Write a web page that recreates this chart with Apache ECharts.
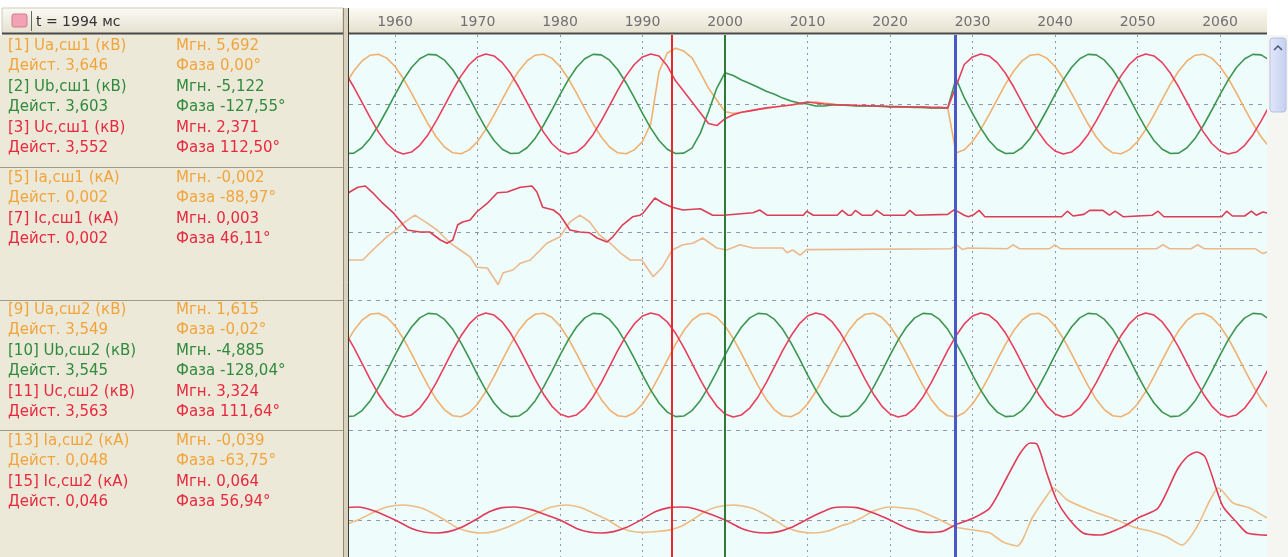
<!DOCTYPE html>
<html><head><meta charset="utf-8">
<script src="https://cdn.jsdelivr.net/npm/echarts@6/dist/echarts.min.js"></script>
<style>html,body{margin:0;padding:0;background:#fff;}#c{width:1288px;height:557px;}</style>
</head><body><div id="c"></div>
<script>
// ---- time samples (ms) for the voltage channels ----
const timeMs = [1954,1955,1956,1957,1958,1959,1960,1961,1962,1963,1964,1965,1966,1967,1968,1969,1970,1971,1972,1973,1974,
1975,1976,1977,1978,1979,1980,1981,1982,1983,1984,1985,1986,1987,1988,1989,1990,1991,1992,1993,1994,
1995,1996,1997,1998,1999,2000,2001,2002,2003,2004,2005,2006,2007,2008,2009,2010,2011,2012,2013,2014,
2015,2016,2017,2018,2019,2020,2021,2022,2023,2024,2025,2026,2027,2028,2029,2030,2031,2032,2033,2034,
2035,2036,2037,2038,2039,2040,2041,2042,2043,2044,2045,2046,2047,2048,2049,2050,2051,2052,2053,2054,
2055,2056,2057,2058,2059,2060,2061,2062,2063,2064,2065,2066];

// ---- panel 1: bus 1 voltages, kV ----
const ua1 = [2.02,
3.37,4.39,4.98,5.08,4.68,3.83,2.60,1.11,-0.48,-2.02,-3.37,-4.39,-4.98,-5.08,-4.68,-3.83,-2.60,-1.11,0.48,2.02,
3.37,4.39,4.98,5.08,4.68,3.83,2.60,1.11,-0.48,-2.02,-3.37,-4.39,-4.98,-5.08,-4.68,
-3.83,-2.00,3.30,5.20,5.69,5.40,4.70,3.20,1.60,0.40,-0.80,
-0.95,-0.85,-0.70,-0.55,-0.45,-0.30,-0.20,-0.10,0.00,0.15,
0.20,0.10,0.00,-0.10,-0.10,-0.15,-0.20,-0.20,-0.20,-0.25,
-0.30,-0.30,-0.30,-0.35,-0.40,-0.40,-0.40,-5.00,
-4.68,-3.83,-2.60,-1.11,0.48,2.02,
3.37,4.39,4.98,5.08,4.68,3.83,2.60,1.11,-0.48,-2.02,-3.37,-4.39,-4.98,-5.08,-4.68,-3.83,-2.60,-1.11,0.48,2.02,
3.37,4.39,4.98,5.08,4.68,3.83,2.60,1.11,-0.48,-2.02,-3.37,-4.39];
const ub1 = [-5.06,
-5.01,-4.47,-3.49,-2.17,-0.64,0.95,2.46,3.72,4.62,5.06,5.01,4.47,3.49,2.17,0.64,-0.95,-2.46,-3.72,-4.62,-5.06,
-5.01,-4.47,-3.49,-2.17,-0.64,0.95,2.46,3.72,4.62,5.06,5.01,4.47,3.49,2.17,0.64,-0.95,-2.46,-3.72,-4.62,-5.06,-5.01,
-4.50,-3.00,-0.80,1.60,3.20,2.90,2.45,2.10,1.70,1.30,
1.00,0.60,0.30,0.10,0.00,-0.20,-0.20,-0.10,-0.10,-0.15,
-0.20,-0.20,-0.20,-0.25,-0.30,-0.30,-0.30,-0.35,-0.35,-0.40,-0.40,-0.40,2.60,
0.64,-0.95,-2.46,-3.72,-4.62,-5.06,
-5.01,-4.47,-3.49,-2.17,-0.64,0.95,2.46,3.72,4.62,5.06,5.01,4.47,3.49,2.17,0.64,-0.95,-2.46,-3.72,-4.62,-5.06,
-5.01,-4.47,-3.49,-2.17,-0.64,0.95,2.46,3.72,4.62,5.06,5.01,4.47];
const uc1 = [3.13,
1.73,0.16,-1.42,-2.87,-4.03,-4.80,-5.10,-4.90,-4.22,-3.13,-1.73,-0.16,1.42,2.87,4.03,4.80,5.10,4.90,4.22,3.13,
1.73,0.16,-1.42,-2.87,-4.03,-4.80,-5.10,-4.90,-4.22,-3.13,-1.73,-0.16,1.42,2.87,4.03,4.80,5.10,4.90,
3.90,2.37,1.30,0.20,-0.90,-2.00,-2.20,-1.50,-1.10,-0.85,
-0.70,-0.55,-0.40,-0.30,-0.20,-0.10,0.05,0.20,0.10,0.00,
-0.05,-0.10,-0.10,-0.15,-0.15,-0.20,-0.20,-0.25,-0.25,-0.30,
-0.30,-0.30,-0.35,-0.35,-0.40,1.80,
4.03,4.80,5.10,4.90,4.22,3.13,
1.73,0.16,-1.42,-2.87,-4.03,-4.80,-5.10,-4.90,-4.22,-3.13,-1.73,-0.16,1.42,2.87,4.03,4.80,5.10,4.90,4.22,3.13,
1.73,0.16,-1.42,-2.87,-4.03,-4.80,-5.10,-4.90,-4.22,-3.13,-1.73,-0.16];

// ---- panel 2: bus 1 currents, A  [ms, A] ----
const ia1 = [[1954.0,-3.5],[1956.1,-3.5],[1957.3,-2.25],[1959.0,-0.6],[1959.8,0],[1961.0,1.1],[1962.4,2.1],[1963.9,1.1],[1965.1,0.25],[1966.7,-1.4],[1967.9,-2.25],[1969.1,-3.1],[1969.9,-4.4],[1971.2,-4.5],[1972.5,-6.6],[1973.1,-5.1],[1974.3,-4.75],[1975.2,-3.9],[1976.4,-3.5],[1977.6,-2.25],[1978.4,-1.4],[1980.0,-0.6],[1981.2,1.25],[1982.4,2.1],[1983.6,1.25],[1984.8,-0.4],[1986.1,-1.4],[1987.3,-2.6],[1988.5,-3.5],[1989.9,-3.5],[1991.3,-5.6],[1992.4,-4.4],[1993.6,-2.25],[1994.9,-1.6],[1996.1,-1.4],[1997.3,-0.75],[1999.0,-2.0],[2000.2,-2.25],[2001.8,-1.6],[2003.4,-2.0],[2007.0,-2.0],[2007.5,-2.6],[2008.2,-2.25],[2009.1,-2.9],[2009.9,-2.2],[2027.4,-2.1],[2028.1,-1.6],[2028.8,-2.2],[2029.4,-2.0],[2034.2,-2.1],[2034.9,-1.6],[2035.7,-2.1],[2039.3,-2.1],[2040.0,-1.6],[2040.7,-2.1],[2052.3,-2.1],[2053.1,-1.6],[2053.9,-2.1],[2056.5,-2.1],[2057.3,-1.6],[2058.1,-2.1],[2064.3,-2.1],[2065.2,-2.7],[2066.0,-2.4]];
const ic1 = [[1954.0,4.6],[1954.5,5.0],[1955.5,5.6],[1956.4,5.75],[1957.3,4.9],[1958.5,3.6],[1959.8,2.4],[1961.5,0.25],[1963.0,0],[1964.2,0],[1965.5,-1.0],[1966.3,-1.4],[1967.0,-1.0],[1967.6,0.9],[1968.2,1.25],[1969.1,1.5],[1969.9,2.5],[1971.2,3.6],[1972.4,4.9],[1973.6,5.0],[1975.2,5.6],[1976.6,5.75],[1977.2,5.0],[1977.9,3.1],[1979.2,2.75],[1980.0,2.1],[1981.2,0.25],[1982.4,0],[1983.6,-0.1],[1984.5,-0.75],[1985.7,-1.25],[1986.4,-0.6],[1987.6,0.9],[1988.8,1.9],[1989.7,2.1],[1990.1,2.4],[1991.5,4.25],[1992.5,3.6],[1993.6,3.1],[1994.9,2.75],[1997.0,2.9],[1998.5,2.1],[1999.8,2.1],[2003.4,2.4],[2004.2,2.75],[2005.1,2.1],[2009.5,2.1],[2009.9,2.6],[2010.7,2.1],[2013.6,2.1],[2014.2,2.7],[2014.9,2.1],[2015.3,2.1],[2015.8,2.7],[2016.6,2.1],[2017.8,2.1],[2018.4,2.7],[2019.2,2.1],[2021.8,2.1],[2022.4,2.7],[2023.1,2.1],[2027.0,2.2],[2027.8,2.8],[2029.0,2.1],[2029.5,1.9],[2030.2,2.2],[2030.8,2.7],[2031.5,1.9],[2040.8,1.9],[2041.5,2.6],[2042.2,2.0],[2043.5,2.2],[2044.2,2.7],[2045.8,2.7],[2046.6,2.1],[2047.3,2.6],[2048.3,1.9],[2051.8,2.1],[2052.5,2.6],[2053.2,1.9],[2060.2,1.9],[2060.8,2.6],[2061.5,2.0],[2063.0,2.0],[2063.8,2.6],[2064.4,2.1],[2065.2,2.5],[2066.0,2.3]];

// ---- panel 3: bus 2 voltages, kV ----
const ua2 = [1.99,
3.31,4.31,4.88,4.98,4.59,3.75,2.55,1.09,-0.47,-1.99,-3.31,-4.31,-4.88,-4.98,-4.59,-3.75,-2.55,-1.09,0.47,1.99,
3.31,4.31,4.88,4.98,4.59,3.75,2.55,1.09,-0.47,-1.99,-3.31,-4.31,-4.88,-4.98,-4.59,-3.75,-2.55,-1.09,0.47,1.99,
3.31,4.31,4.88,4.98,4.59,3.75,2.55,1.09,-0.47,-1.99,-3.31,-4.31,-4.88,-4.98,-4.59,-3.75,-2.55,-1.09,0.47,1.99,
3.31,4.31,4.88,4.98,4.59,3.75,2.55,1.09,-0.47,-1.99,-3.31,-4.31,-4.88,-4.98,-4.59,-3.75,-2.55,-1.09,0.47,1.99,
3.31,4.31,4.88,4.98,4.59,3.75,2.55,1.09,-0.47,-1.99,-3.31,-4.31,-4.88,-4.98,-4.59,-3.75,-2.55,-1.09,0.47,1.99,
3.31,4.31,4.88,4.98,4.59,3.75,2.55,1.09,-0.47,-1.99,-3.31,-4.31];
const ub2 = [-4.96,
-4.91,-4.38,-3.43,-2.13,-0.63,0.94,2.41,3.65,4.53,4.96,4.91,4.38,3.43,2.13,0.63,-0.94,-2.41,-3.65,-4.53,-4.96,
-4.91,-4.38,-3.43,-2.13,-0.63,0.94,2.41,3.65,4.53,4.96,4.91,4.38,3.43,2.13,0.63,-0.94,-2.41,-3.65,-4.53,-4.96,
-4.91,-4.38,-3.43,-2.13,-0.63,0.94,2.41,3.65,4.53,4.96,4.91,4.38,3.43,2.13,0.63,-0.94,-2.41,-3.65,-4.53,-4.96,
-4.91,-4.38,-3.43,-2.13,-0.63,0.94,2.41,3.65,4.53,4.96,4.91,4.38,3.43,2.13,0.63,-0.94,-2.41,-3.65,-4.53,-4.96,
-4.91,-4.38,-3.43,-2.13,-0.63,0.94,2.41,3.65,4.53,4.96,4.91,4.38,3.43,2.13,0.63,-0.94,-2.41,-3.65,-4.53,-4.96,
-4.91,-4.38,-3.43,-2.13,-0.63,0.94,2.41,3.65,4.53,4.96,4.91,4.38];
const uc2 = [3.07,
1.70,0.16,-1.40,-2.81,-3.95,-4.71,-5.00,-4.80,-4.14,-3.07,-1.70,-0.16,1.40,2.81,3.95,4.71,5.00,4.80,4.14,3.07,
1.70,0.16,-1.40,-2.81,-3.95,-4.71,-5.00,-4.80,-4.14,-3.07,-1.70,-0.16,1.40,2.81,3.95,4.71,5.00,4.80,4.14,3.07,
1.70,0.16,-1.40,-2.81,-3.95,-4.71,-5.00,-4.80,-4.14,-3.07,-1.70,-0.16,1.40,2.81,3.95,4.71,5.00,4.80,4.14,3.07,
1.70,0.16,-1.40,-2.81,-3.95,-4.71,-5.00,-4.80,-4.14,-3.07,-1.70,-0.16,1.40,2.81,3.95,4.71,5.00,4.80,4.14,3.07,
1.70,0.16,-1.40,-2.81,-3.95,-4.71,-5.00,-4.80,-4.14,-3.07,-1.70,-0.16,1.40,2.81,3.95,4.71,5.00,4.80,4.14,3.07,
1.70,0.16,-1.40,-2.81,-3.95,-4.71,-5.00,-4.80,-4.14,-3.07,-1.70,-0.16];

// ---- panel 4: bus 2 currents, A  [ms, A] ----
const ia2 = [[1954.0,-22],[1955.5,0],[1957.5,40],[1959.0,65],[1961.0,75],[1963.0,62],[1964.5,35],[1966.0,0],[1967.5,-38],[1969.0,-58],[1970.5,-65],[1972.0,-58],[1973.5,-38],[1975.5,0],[1977.5,40],[1979.0,65],[1980.8,75],[1982.5,62],[1984.0,35],[1985.8,0],[1987.3,-38],[1988.5,-55],[1990.0,-62],[1991.5,-58],[1993.0,-52],[1994.5,-35],[1996.0,0],[1997.5,40],[1999.0,65],[2001.0,75],[2003.0,62],[2004.5,35],[2006.0,0],[2007.5,-38],[2009.0,-58],[2010.7,-65],[2012.5,-55],[2014.0,-30],[2015.2,-15],[2016.5,10],[2018.0,45],[2020.0,65],[2022.0,58],[2023.3,50],[2026.1,0],[2027.9,-35],[2030.1,-50],[2032.1,-65],[2033.7,-110],[2035.4,-130],[2037.3,15],[2039.0,120],[2039.8,160],[2041.5,100],[2044.2,50],[2047.5,0],[2049.5,-35],[2051.9,-60],[2053.6,-85],[2055.4,-125],[2057.2,-35],[2058.8,100],[2059.8,160],[2061.6,85],[2063.6,60],[2065.5,15],[2066.0,8]];
const ic2 = [[1954.0,62],[1955.5,65],[1957.5,45],[1960.0,0],[1962.0,-42],[1963.5,-60],[1965.0,-65],[1966.5,-58],[1968.0,-38],[1969.7,0],[1971.5,42],[1973.0,62],[1974.5,65],[1976.5,52],[1978.0,30],[1980.0,0],[1982.0,-42],[1983.5,-60],[1985.0,-65],[1986.5,-58],[1988.0,-38],[1989.8,0],[1991.6,42],[1993.2,62],[1994.5,65],[1995.5,64],[1997.5,40],[2000.0,0],[2002.0,-42],[2003.5,-60],[2005.0,-65],[2006.5,-58],[2008.0,-38],[2009.8,0],[2011.5,35],[2013.0,60],[2014.5,65],[2016.0,62],[2018.0,35],[2020.0,0],[2022.0,-40],[2023.5,-58],[2025.0,-62],[2026.5,-55],[2027.9,-25],[2030.1,10],[2032.1,60],[2034.2,215],[2035.8,335],[2037.0,385],[2037.8,380],[2039.0,235],[2040.2,100],[2041.5,15],[2043.4,-65],[2045.5,-75],[2048.2,-35],[2050.3,15],[2052.5,60],[2054.8,250],[2056.0,315],[2057.2,340],[2058.2,315],[2059.6,150],[2060.4,65],[2062.1,-15],[2063.3,-65],[2065.2,-75],[2066.0,-76]];

// ---- axis ticks and cursors ----
const tickMs = [1960,1970,1980,1990,2000,2010,2020,2030,2040,2050,2060];
const cursorMs = [1993.6, 2000, 2027.9];
const headerText = 't = 1994 мс';

// ---- channel info (left panel) ----
const infoPanels = [
  [['[1] Ua,сш1 (кВ)','Дейст. 3,646','Мгн. 5,692','Фаза 0,00°','o'],
   ['[2] Ub,сш1 (кВ)','Дейст. 3,603','Мгн. -5,122','Фаза -127,55°','g'],
   ['[3] Uc,сш1 (кВ)','Дейст. 3,552','Мгн. 2,371','Фаза 112,50°','r']],
  [['[5] Ia,сш1 (кА)','Дейст. 0,002','Мгн. -0,002','Фаза -88,97°','o'],
   ['[7] Ic,сш1 (кА)','Дейст. 0,002','Мгн. 0,003','Фаза 46,11°','r']],
  [['[9] Ua,сш2 (кВ)','Дейст. 3,549','Мгн. 1,615','Фаза -0,02°','o'],
   ['[10] Ub,сш2 (кВ)','Дейст. 3,545','Мгн. -4,885','Фаза -128,04°','g'],
   ['[11] Uc,сш2 (кВ)','Дейст. 3,563','Мгн. 3,324','Фаза 111,64°','r']],
  [['[13] Ia,сш2 (кА)','Дейст. 0,048','Мгн. -0,039','Фаза -63,75°','o'],
   ['[15] Ic,сш2 (кА)','Дейст. 0,046','Мгн. 0,064','Фаза 56,94°','r']]
];

// ---------- styling / layout ----------
const textColor = {o:'#f2a43c', g:'#2f8a3c', r:'#e8283e'};
const lineColor = {o:'#f0b070', g:'#3c9650', r:'#e8405c'};
const X_MIN = 1954.42, X_MAX = 2065.70;
const panelTop = [35,167,300,430];
const panelH = [132,133,130,127];
const yMin = [-6.43,-8.5,-6.25,-185];
const yMax = [7.04,8.125,6.25,450];
const gridCol = '#8e9aaa';
const PL = 349, PR = 1267;

const grid = panelTop.map((t,i)=>({left:PL, right:1288-PR, top:t, height:panelH[i], show:true, backgroundColor:'#eefcfc', borderWidth:0}));
const xAxis = panelTop.map((t,i)=>({
  type:'value', gridIndex:i, min:X_MIN, max:X_MAX, position: i===0?'top':'bottom',
  axisLine:{show:false}, axisTick:{show:false, customValues:tickMs},
  axisLabel: i===0 ? {show:true, customValues:tickMs, formatter:(v)=>String(Math.round(v)), color:'#707070', fontSize:14, fontFamily:'DejaVu Sans', margin:6} : {show:false},
  splitLine:{show:true, lineStyle:{color:gridCol, width:1, type:[2,4]}}
}));
const yAxis = panelTop.map((t,i)=>({
  type:'value', gridIndex:i, min:yMin[i], max:yMax[i],
  axisLine:{show:false}, axisLabel:{show:false},
  axisTick:{show:false, customValues: i<3 ? [yMin[i],0] : [0]},
  splitLine:{show:true, lineStyle:{color:gridCol, width:1, type:[4,5]}}
}));

const cursorColors = ['#e82a30','#2e7a36','#4a58c8'];
const cursorWidths = [2,2,3];
function cursorMark(){
  return {silent:true, symbol:'none', animation:false, label:{show:false},
    data: cursorMs.map((v,j)=>({xAxis:v, lineStyle:{color:cursorColors[j], width:cursorWidths[j], type:'solid'}}))};
}
function zipT(vals){ return vals.map((v,k)=>[timeMs[k], v]); }
function mk(name, gi, data, col, extra){
  return Object.assign({name, type:'line', xAxisIndex:gi, yAxisIndex:gi, data, showSymbol:false, symbol:'none',
    lineStyle:{color:col, width:1.6}, itemStyle:{color:col}, animation:false, silent:true, z:2}, extra||{});
}
const series = [
  mk('Ua1',0,zipT(ua1),lineColor.o),
  mk('Ub1',0,zipT(ub1),lineColor.g),
  mk('Uc1',0,zipT(uc1),lineColor.r,{markLine:cursorMark()}),
  mk('Ia1',1,ia1,'#ecb88c'),
  mk('Ic1',1,ic1,'#dc3e55',{markLine:cursorMark()}),
  mk('Ua2',2,zipT(ua2),lineColor.o),
  mk('Ub2',2,zipT(ub2),lineColor.g),
  mk('Uc2',2,zipT(uc2),lineColor.r,{markLine:cursorMark()}),
  mk('Ia2',3,ia2,'#eebc84',{smooth:0.25}),
  mk('Ic2',3,ic2,'#e03c58',{smooth:0.25, markLine:cursorMark()})
];

// ---------- frame graphics ----------
const hdrGrad = {type:'linear',x:0,y:0,x2:0,y2:1,colorStops:[{offset:0,color:'#fbfaf4'},{offset:1,color:'#e4e0ce'}]};
const g = [];
g.push({type:'rect', shape:{x:0,y:35,width:343,height:522}, style:{fill:'#ece9d8'}, z:1});
g.push({type:'rect', shape:{x:2,y:8,width:341,height:26}, style:{fill:hdrGrad, stroke:'#cfcbb8', lineWidth:1}, z:2});
g.push({type:'rect', shape:{x:PL,y:8,width:PR-PL,height:26}, style:{fill:hdrGrad}, z:0});
g.push({type:'rect', shape:{x:12,y:14,width:15,height:13,r:2}, style:{fill:'#f2a2b4', stroke:'#cf7a8c', lineWidth:1}, z:3});
g.push({type:'line', shape:{x1:31.5,y1:11,x2:31.5,y2:31}, style:{stroke:'#666', lineWidth:1}, z:3});
g.push({type:'text', style:{text:headerText, x:36, y:22, fill:'#333', font:'14px "DejaVu Sans"', verticalAlign:'middle'}, z:3});
g.push({type:'line', shape:{x1:2,y1:33.5,x2:PR,y2:33.5}, style:{stroke:'#4a4a4a', lineWidth:2}, z:3});
[167,300,430].forEach(y=>g.push({type:'line', shape:{x1:0,y1:y+0.5,x2:343,y2:y+0.5}, style:{stroke:'#9e9a88', lineWidth:1}, z:3}));
g.push({type:'rect', shape:{x:343,y:8,width:6,height:549}, style:{fill:'#d8d2be'}, z:3});
g.push({type:'line', shape:{x1:343.5,y1:8,x2:343.5,y2:557}, style:{stroke:'#8e8874', lineWidth:1}, z:4});
g.push({type:'line', shape:{x1:348.5,y1:8,x2:348.5,y2:557}, style:{stroke:'#3e3a30', lineWidth:1}, z:4});
// scrollbar
g.push({type:'rect', shape:{x:PR,y:35,width:1288-PR,height:522}, style:{fill:'#f5f5f1'}, z:3});
g.push({type:'rect', shape:{x:1270,y:38,width:16,height:74,r:3},
  style:{fill:{type:'linear',x:0,y:0,x2:1,y2:0,colorStops:[{offset:0,color:'#e2e8fb'},{offset:1,color:'#c4d0f0'}]}, stroke:'#b4c0e0', lineWidth:1}, z:4});
g.push({type:'polyline', shape:{points:[[1274,50],[1278,46],[1282,50]]}, style:{stroke:'#4a5470', lineWidth:1.5, fill:null}, z:5});
// channel info text
const rowStart = [46,178,310,441], rowStep = 20.5;
infoPanels.forEach((rows,p)=>{
  rows.forEach((r,i)=>{
    const col = textColor[r[4]];
    const y1 = rowStart[p] + i*2*rowStep, y2 = y1 + rowStep;
    const f = '15px "DejaVu Sans"';
    g.push({type:'text', style:{text:r[0], x:8, y:y1, fill:col, font:f, verticalAlign:'middle'}, z:5});
    g.push({type:'text', style:{text:r[1], x:8, y:y2, fill:col, font:f, verticalAlign:'middle'}, z:5});
    g.push({type:'text', style:{text:r[2], x:176, y:y1, fill:col, font:f, verticalAlign:'middle'}, z:5});
    g.push({type:'text', style:{text:r[3], x:176, y:y2, fill:col, font:f, verticalAlign:'middle'}, z:5});
  });
});

const chart = echarts.init(document.getElementById('c'), null, {renderer:'canvas'});
chart.setOption({
  animation:false,
  backgroundColor:'#ffffff',
  grid, xAxis, yAxis, series,
  graphic:{elements:g}
});
</script>
</body></html>
